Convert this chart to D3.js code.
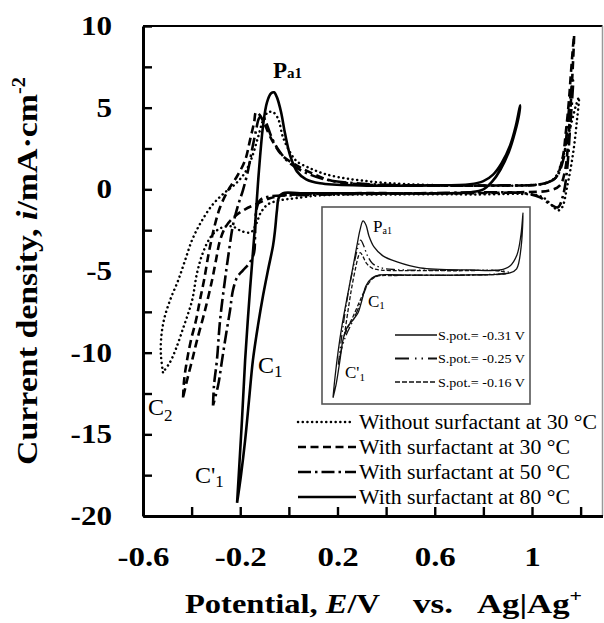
<!DOCTYPE html>
<html>
<head>
<meta charset="utf-8">
<script src="https://cdnjs.cloudflare.com/ajax/libs/d3/7.8.5/d3.min.js"></script>
<style>
  body { margin: 0; background: #fff; }
  svg { font-family: "Liberation Serif", "Times New Roman", serif; }
</style>
</head>
<body>
<div id="chart"></div>
<script>
// values: [E (V vs Ag|Ag+), i (mA cm-2)], each loop in scan order
var withoutSurf30 = [
  [-0.518,-11.2],[-0.526,-10.2],[-0.526,-9.25],[-0.514,-8.0],[-0.489,-6.8],[-0.456,-5.6],[-0.427,-4.35],
  [-0.398,-3.1],[-0.361,-2.0],[-0.316,-0.98],[-0.267,-0.24],[-0.217,0.37],[-0.18,1.04],[-0.152,1.96],
  [-0.127,3.18],[-0.106,4.23],[-0.086,4.72],[-0.065,4.72],[-0.045,4.35],[-0.024,3.18],[0.005,2.27],
  [0.033,1.71],[0.087,1.29],[0.14,0.98],[0.21,0.73],[0.293,0.55],[0.416,0.37],[0.663,0.24],[0.951,0.24],
  [1.054,0.37],[1.095,0.73],[1.124,1.78],[1.144,3.0],[1.165,4.23],[1.181,5.14],[1.193,5.63],
  [1.185,4.23],[1.169,2.2],[1.144,0.12],[1.124,-1.1],[1.107,-1.29],[1.082,-0.98],[1.045,-0.49],
  [0.992,-0.31],[0.786,-0.31],[0.457,-0.31],[0.128,-0.37],[0.025,-0.55],[-0.036,-0.67],[-0.086,-0.92],
  [-0.115,-1.41],[-0.135,-2.14],[-0.156,-2.63],[-0.193,-2.57],[-0.234,-2.27],[-0.283,-2.39],[-0.32,-2.88],
  [-0.353,-3.86],[-0.378,-5.14],[-0.398,-6.8],[-0.431,-8.33],[-0.464,-9.74],[-0.489,-10.59],[-0.518,-11.2]
];
var withSurf30 = [
  [-0.435,-12.74],[-0.431,-11.7],[-0.419,-10.47],[-0.403,-9.25],[-0.382,-8.02],[-0.366,-6.8],[-0.349,-5.57],
  [-0.329,-3.86],[-0.308,-2.39],[-0.283,-1.1],[-0.25,-0.06],[-0.213,0.8],[-0.18,1.78],[-0.16,3.0],
  [-0.143,4.1],[-0.135,4.72],[-0.119,4.53],[-0.098,3.92],[-0.069,3.0],[-0.028,2.08],[0.025,1.53],
  [0.087,1.04],[0.169,0.55],[0.293,0.31],[0.539,0.24],[0.869,0.24],[1.033,0.31],[1.095,0.67],[1.124,1.78],
  [1.14,3.61],[1.152,5.45],[1.161,7.29],[1.173,9.43],
  [1.165,6.67],[1.152,3.61],[1.136,1.16],[1.115,0.24],[1.074,-0.06],[0.951,-0.18],[0.663,-0.24],
  [0.252,-0.24],[0.046,-0.31],[-0.028,-0.37],[-0.078,-0.55],[-0.127,-0.86],[-0.18,-1.22],[-0.222,-1.65],
  [-0.259,-2.27],[-0.283,-3.12],[-0.3,-4.35],[-0.316,-5.57],[-0.345,-7.41],[-0.378,-9.25],[-0.398,-10.47],
  [-0.419,-11.7],[-0.435,-12.74]
];
var withSurf50 = [
  [-0.312,-13.23],[-0.308,-12.0],[-0.296,-10.47],[-0.283,-8.02],[-0.263,-5.57],[-0.246,-3.74],[-0.23,-2.2],
  [-0.209,-0.98],[-0.189,-0.06],[-0.168,1.16],[-0.152,2.39],[-0.135,3.61],[-0.123,4.35],[-0.11,4.53],
  [-0.094,4.1],[-0.069,3.12],[-0.036,2.27],[0.005,1.59],[0.066,1.04],[0.149,0.61],[0.272,0.37],[0.539,0.24],
  [0.869,0.24],[1.033,0.31],[1.095,0.67],[1.128,1.78],[1.144,3.61],[1.156,5.45],[1.169,6.67],
  [1.156,3.61],[1.144,1.16],[1.128,-0.37],[1.107,-1.1],[1.082,-0.98],[1.033,-0.49],[0.971,-0.24],
  [0.869,-0.18],[0.539,-0.24],[0.169,-0.31],[0.005,-0.37],[-0.078,-0.43],[-0.119,-0.67],[-0.135,-1.41],
  [-0.139,-2.82],[-0.143,-3.86],[-0.16,-4.47],[-0.189,-4.96],[-0.213,-5.39],[-0.23,-6.18],[-0.242,-7.41],
  [-0.259,-8.94],[-0.275,-10.47],[-0.291,-12.0],[-0.312,-13.23]
];
var withSurf80 = [
  [-0.213,-19.2],[-0.205,-17.2],[-0.193,-14.15],[-0.18,-10.47],[-0.16,-6.18],[-0.139,-2.2],[-0.123,1.16],
  [-0.106,3.92],[-0.09,5.33],[-0.073,5.88],[-0.061,5.94],[-0.049,5.63],[-0.032,4.72],[-0.016,3.43],
  [0.005,2.08],[0.033,1.1],[0.071,0.61],[0.128,0.37],[0.293,0.24],[0.581,0.24],[0.745,0.31],[0.8,0.5],
  [0.84,0.9],[0.875,1.6],[0.91,2.69],[0.934,3.92],[0.951,5.14],
  [0.947,4.6],[0.93,3.5],[0.905,2.3],[0.87,1.2],[0.835,0.45],[0.8,0.0],[0.75,-0.18],[0.663,-0.24],
  [0.252,-0.24],[0.046,-0.24],
  [-0.024,-0.24],[-0.041,-0.49],[-0.049,-1.29],[-0.057,-2.51],[-0.065,-3.43],[-0.086,-4.96],[-0.106,-6.49],
  [-0.127,-8.33],[-0.148,-10.47],[-0.164,-12.92],[-0.18,-15.37],[-0.197,-17.51],[-0.213,-19.2]
];

// inset (no axes drawn, same kind of units)
var insetPot031 = [
  [-0.326,-15.3],[-0.313,-13.1],[-0.292,-10.2],[-0.265,-7.2],[-0.232,-4.2],[-0.198,-1.25],[-0.164,1.77],
  [-0.144,3.44],[-0.124,4.45],[-0.104,4.0],[-0.084,2.77],[-0.05,1.54],[0.01,0.54],[0.105,-0.13],[0.26,-0.8],
  [0.596,-1.03],[0.798,-1.03],[0.865,-0.58],[0.912,0.65],[0.939,2.88],[0.953,5.34],
  [0.94,1.5],[0.91,-0.9],[0.865,-1.36],[0.596,-1.59],[0.125,-1.59],[-0.01,-1.59],[-0.064,-1.92],
  [-0.104,-2.8],[-0.131,-4.38],[-0.158,-5.83],[-0.191,-6.6],[-0.232,-7.5],[-0.259,-8.85],[-0.279,-11.1],
  [-0.306,-13.9],[-0.326,-15.3]
];
var insetPot025 = [
  [-0.29,-11.6],[-0.27,-8.8],[-0.245,-5.8],[-0.215,-2.8],[-0.185,-0.4],[-0.16,1.4],[-0.14,2.3],[-0.12,1.7],
  [-0.095,0.6],[-0.06,-0.3],[0.0,-0.8],[0.1,-1.0],[0.3,-1.05],[0.6,-1.08],[0.8,-1.1],[0.86,-1.35],
  [0.6,-1.6],[0.1,-1.62],[-0.03,-1.7],[-0.08,-2.3],[-0.12,-3.7],[-0.16,-5.5],[-0.2,-7.0],[-0.24,-8.4],
  [-0.27,-10.0],[-0.29,-11.6]
];
var insetPot016 = [
  [-0.25,-8.4],[-0.225,-5.6],[-0.2,-3.0],[-0.175,-0.9],[-0.155,0.5],[-0.142,0.9],[-0.125,0.5],[-0.1,-0.3],
  [-0.06,-0.85],[0.0,-1.05],[0.15,-1.1],[0.5,-1.12],[0.8,-1.15],[0.84,-1.4],[0.5,-1.62],[0.1,-1.65],
  [-0.04,-1.8],[-0.09,-2.6],[-0.14,-4.3],[-0.19,-6.2],[-0.225,-7.4],[-0.25,-8.4]
];

var xTicks = [-0.6, -0.4, -0.2, 0, 0.2, 0.4, 0.6, 0.8, 1, 1.2];
var xLabels = [-0.6, -0.2, 0.2, 0.6, 1];
var yTicks = [-20, -17.5, -15, -12.5, -10, -7.5, -5, -2.5, 0, 2.5, 5, 7.5, 10];
var yLabels = [-20, -15, -10, -5, 0, 5, 10];
var legendNames = ["Without surfactant at 30 \u00B0C", "With surfactant at 30 \u00B0C",
                   "With surfactant at 50 \u00B0C", "With surfactant at 80 \u00B0C"];
var insetNames = ["S.pot.= -0.31 V", "S.pot.= -0.25 V", "S.pot.= -0.16 V"];

var width = 604, height = 623;

var svg = d3.select("#chart").append("svg")
    .attr("width", width)
    .attr("height", height);

var x = d3.scaleLinear().domain([-0.6, 1.29]).range([143, 602.5]);
var y = d3.scaleLinear().domain([-20, 10]).range([516, 26]);

// widen a text to k times its natural length (the figure's type is wide)
function stretch(sel, k, target) {
  sel.each(function() {
    var len = target || this.getComputedTextLength() * k;
    d3.select(this).attr("textLength", len).attr("lengthAdjust", "spacingAndGlyphs");
  });
}

// frame: top black, right grey
svg.append("line")
    .attr("x1", x(-0.6)).attr("x2", x(1.29)).attr("y1", y(10)).attr("y2", y(10))
    .attr("stroke", "#000").attr("stroke-width", 2.2);
svg.append("line")
    .attr("x1", x(1.29)).attr("x2", x(1.29)).attr("y1", y(10)).attr("y2", y(-20))
    .attr("stroke", "#999").attr("stroke-width", 1.5);

// axes
var yAxis = svg.append("g")
    .attr("transform", "translate(" + x(-0.6) + ",0)")
    .call(d3.axisLeft(y).tickValues(yTicks).tickSizeInner(-9).tickSizeOuter(0).tickPadding(31)
      .tickFormat(function(d) { return yLabels.indexOf(d) >= 0 ? String(d) : ""; }));

var xAxis = svg.append("g")
    .attr("transform", "translate(0," + y(-20) + ")")
    .call(d3.axisBottom(x).tickValues(xTicks).tickSizeInner(-9).tickSizeOuter(0).tickPadding(31)
      .tickFormat(function(d) { return xLabels.indexOf(d) >= 0 ? String(d) : ""; }));

[yAxis, xAxis].forEach(function(ax) {
  ax.select(".domain").attr("stroke", "#000").attr("stroke-width", 3);
  ax.selectAll(".tick line").attr("stroke", "#000").attr("stroke-width", 2.4);
  ax.selectAll(".tick text")
      .attr("fill", "#000")
      .style("font-family", "'Liberation Serif', serif")
      .style("font-size", "27px")
      .style("font-weight", "bold");
});
yAxis.selectAll(".tick text").call(stretch, 1.15);
xAxis.selectAll(".tick text").call(stretch, 1.22);

// curves
var line = d3.line()
    .x(function(d) { return x(d[0]); })
    .y(function(d) { return y(d[1]); })
    .curve(d3.curveCatmullRom.alpha(0.5));

var styles = [
  { data: withoutSurf30, dash: "0.1,4.6", w: 2.5, cap: "round" },
  { data: withSurf30, dash: "8,4.5", w: 2.6, cap: "butt" },
  { data: withSurf50, dash: "13,4,2.5,4", w: 2.6, cap: "butt" },
  { data: withSurf80, dash: null, w: 2.6, cap: "butt" }
];

svg.selectAll("path.cv")
    .data(styles)
    .enter()
    .append("path")
      .attr("class", "cv")
      .attr("d", function(d) { return line(d.data); })
      .attr("fill", "none")
      .attr("stroke", "#000")
      .attr("stroke-width", function(d) { return d.w; })
      .attr("stroke-linecap", function(d) { return d.cap; })
      .attr("stroke-linejoin", "round")
      .attr("stroke-dasharray", function(d) { return d.dash; });

// main legend
var legend = svg.append("g");
legendNames.forEach(function(name, k) {
  var ly = 422 + k * 25;
  legend.append("line")
      .attr("x1", 298).attr("x2", k === 0 ? 352 : 356).attr("y1", ly).attr("y2", ly)
      .attr("stroke", "#000")
      .attr("stroke-width", styles[k].w)
      .attr("stroke-linecap", styles[k].cap)
      .attr("stroke-dasharray", styles[k].dash);
  legend.append("text")
      .attr("x", 359).attr("y", ly + 7)
      .style("font-size", "20.5px")
      .text(name)
      .call(stretch, 1, k === 0 ? 238 : 211);
});

// inset
var inset = svg.append("g");
inset.append("rect")
    .attr("x", 322).attr("y", 207).attr("width", 208).attr("height", 197)
    .attr("fill", "#fff").attr("stroke", "#555").attr("stroke-width", 1.6);

var xi = d3.scaleLinear().domain([-0.4, 1.0]).range([322, 530]);
var yi = d3.scaleLinear().domain([-16, 6]).range([404, 207]);
var lineI = d3.line()
    .x(function(d) { return xi(d[0]); })
    .y(function(d) { return yi(d[1]); })
    .curve(d3.curveCatmullRom.alpha(0.5));

var insetStyles = [
  { data: insetPot031, dash: null },
  { data: insetPot025, dash: "9,3,1.5,3,1.5,3" },
  { data: insetPot016, dash: "4,2" }
];
inset.selectAll("path")
    .data(insetStyles)
    .enter()
    .append("path")
      .attr("d", function(d) { return lineI(d.data); })
      .attr("fill", "none")
      .attr("stroke", "#111")
      .attr("stroke-width", 1.3)
      .attr("stroke-dasharray", function(d) { return d.dash; });

insetNames.forEach(function(name, k) {
  var ly = 335 + k * 23.5;
  inset.append("line")
      .attr("x1", 395).attr("x2", 437).attr("y1", ly).attr("y2", ly)
      .attr("stroke", "#111").attr("stroke-width", k === 1 ? 1.8 : 1.3)
      .attr("stroke-dasharray", k === 0 ? null : (k === 1 ? "14,6,1.5,5,1.5,5" : "5,2"));
  inset.append("text")
      .attr("x", 438).attr("y", ly + 4.5)
      .style("font-size", "13px")
      .text(name)
      .call(stretch, 1, 87);
});

// peak / wave labels
function waveLabel(g, lx, ly, main, sub, size, subSize, subDy, bold) {
  var t = g.append("text")
      .attr("x", lx).attr("y", ly)
      .style("font-size", size + "px")
      .style("font-weight", bold ? "bold" : "normal")
      .text(main);
  t.append("tspan")
      .attr("dy", subDy)
      .style("font-size", subSize + "px")
      .text(sub);
  return t;
}
waveLabel(svg, 273, 78, "P", "a1", 23, 15, 0, true);
waveLabel(svg, 258, 373, "C", "1", 24, 17, 4, false);
waveLabel(svg, 148, 415, "C", "2", 24, 17, 6, false);
waveLabel(svg, 195, 483, "C'", "1", 24, 17, 4, false);
waveLabel(inset, 373, 232, "P", "a1", 17, 10, 2, false);
waveLabel(inset, 368, 307, "C", "1", 17, 11, 2, false);
waveLabel(inset, 345, 378, "C'", "1", 17, 11, 3, false);

// axis titles
var yTitle = svg.append("text")
    .attr("transform", "translate(37,271) rotate(-90)")
    .attr("text-anchor", "middle")
    .style("font-size", "30px")
    .style("font-weight", "bold");
yTitle.append("tspan").text("Current density, ");
yTitle.append("tspan").style("font-style", "italic").text("i");
yTitle.append("tspan").text("/mA\u00B7cm");
yTitle.append("tspan").attr("dy", -12).style("font-size", "18px").text("-2");
yTitle.call(stretch, 1, 388);

var xt1 = svg.append("text").attr("x", 185).attr("y", 613)
    .style("font-size", "27px").style("font-weight", "bold");
xt1.append("tspan").text("Potential, ");
xt1.append("tspan").style("font-style", "italic").text("E");
xt1.append("tspan").text("/V");
xt1.call(stretch, 1, 195);

svg.append("text").attr("x", 413).attr("y", 613)
    .style("font-size", "27px").style("font-weight", "bold")
    .text("vs.")
    .call(stretch, 1, 40);

var xt3 = svg.append("text").attr("x", 477).attr("y", 613)
    .style("font-size", "27px").style("font-weight", "bold");
xt3.append("tspan").text("Ag|Ag");
xt3.append("tspan").attr("dy", -11).style("font-size", "17px").text("+");
xt3.call(stretch, 1, 105);
</script>
</body>
</html>
